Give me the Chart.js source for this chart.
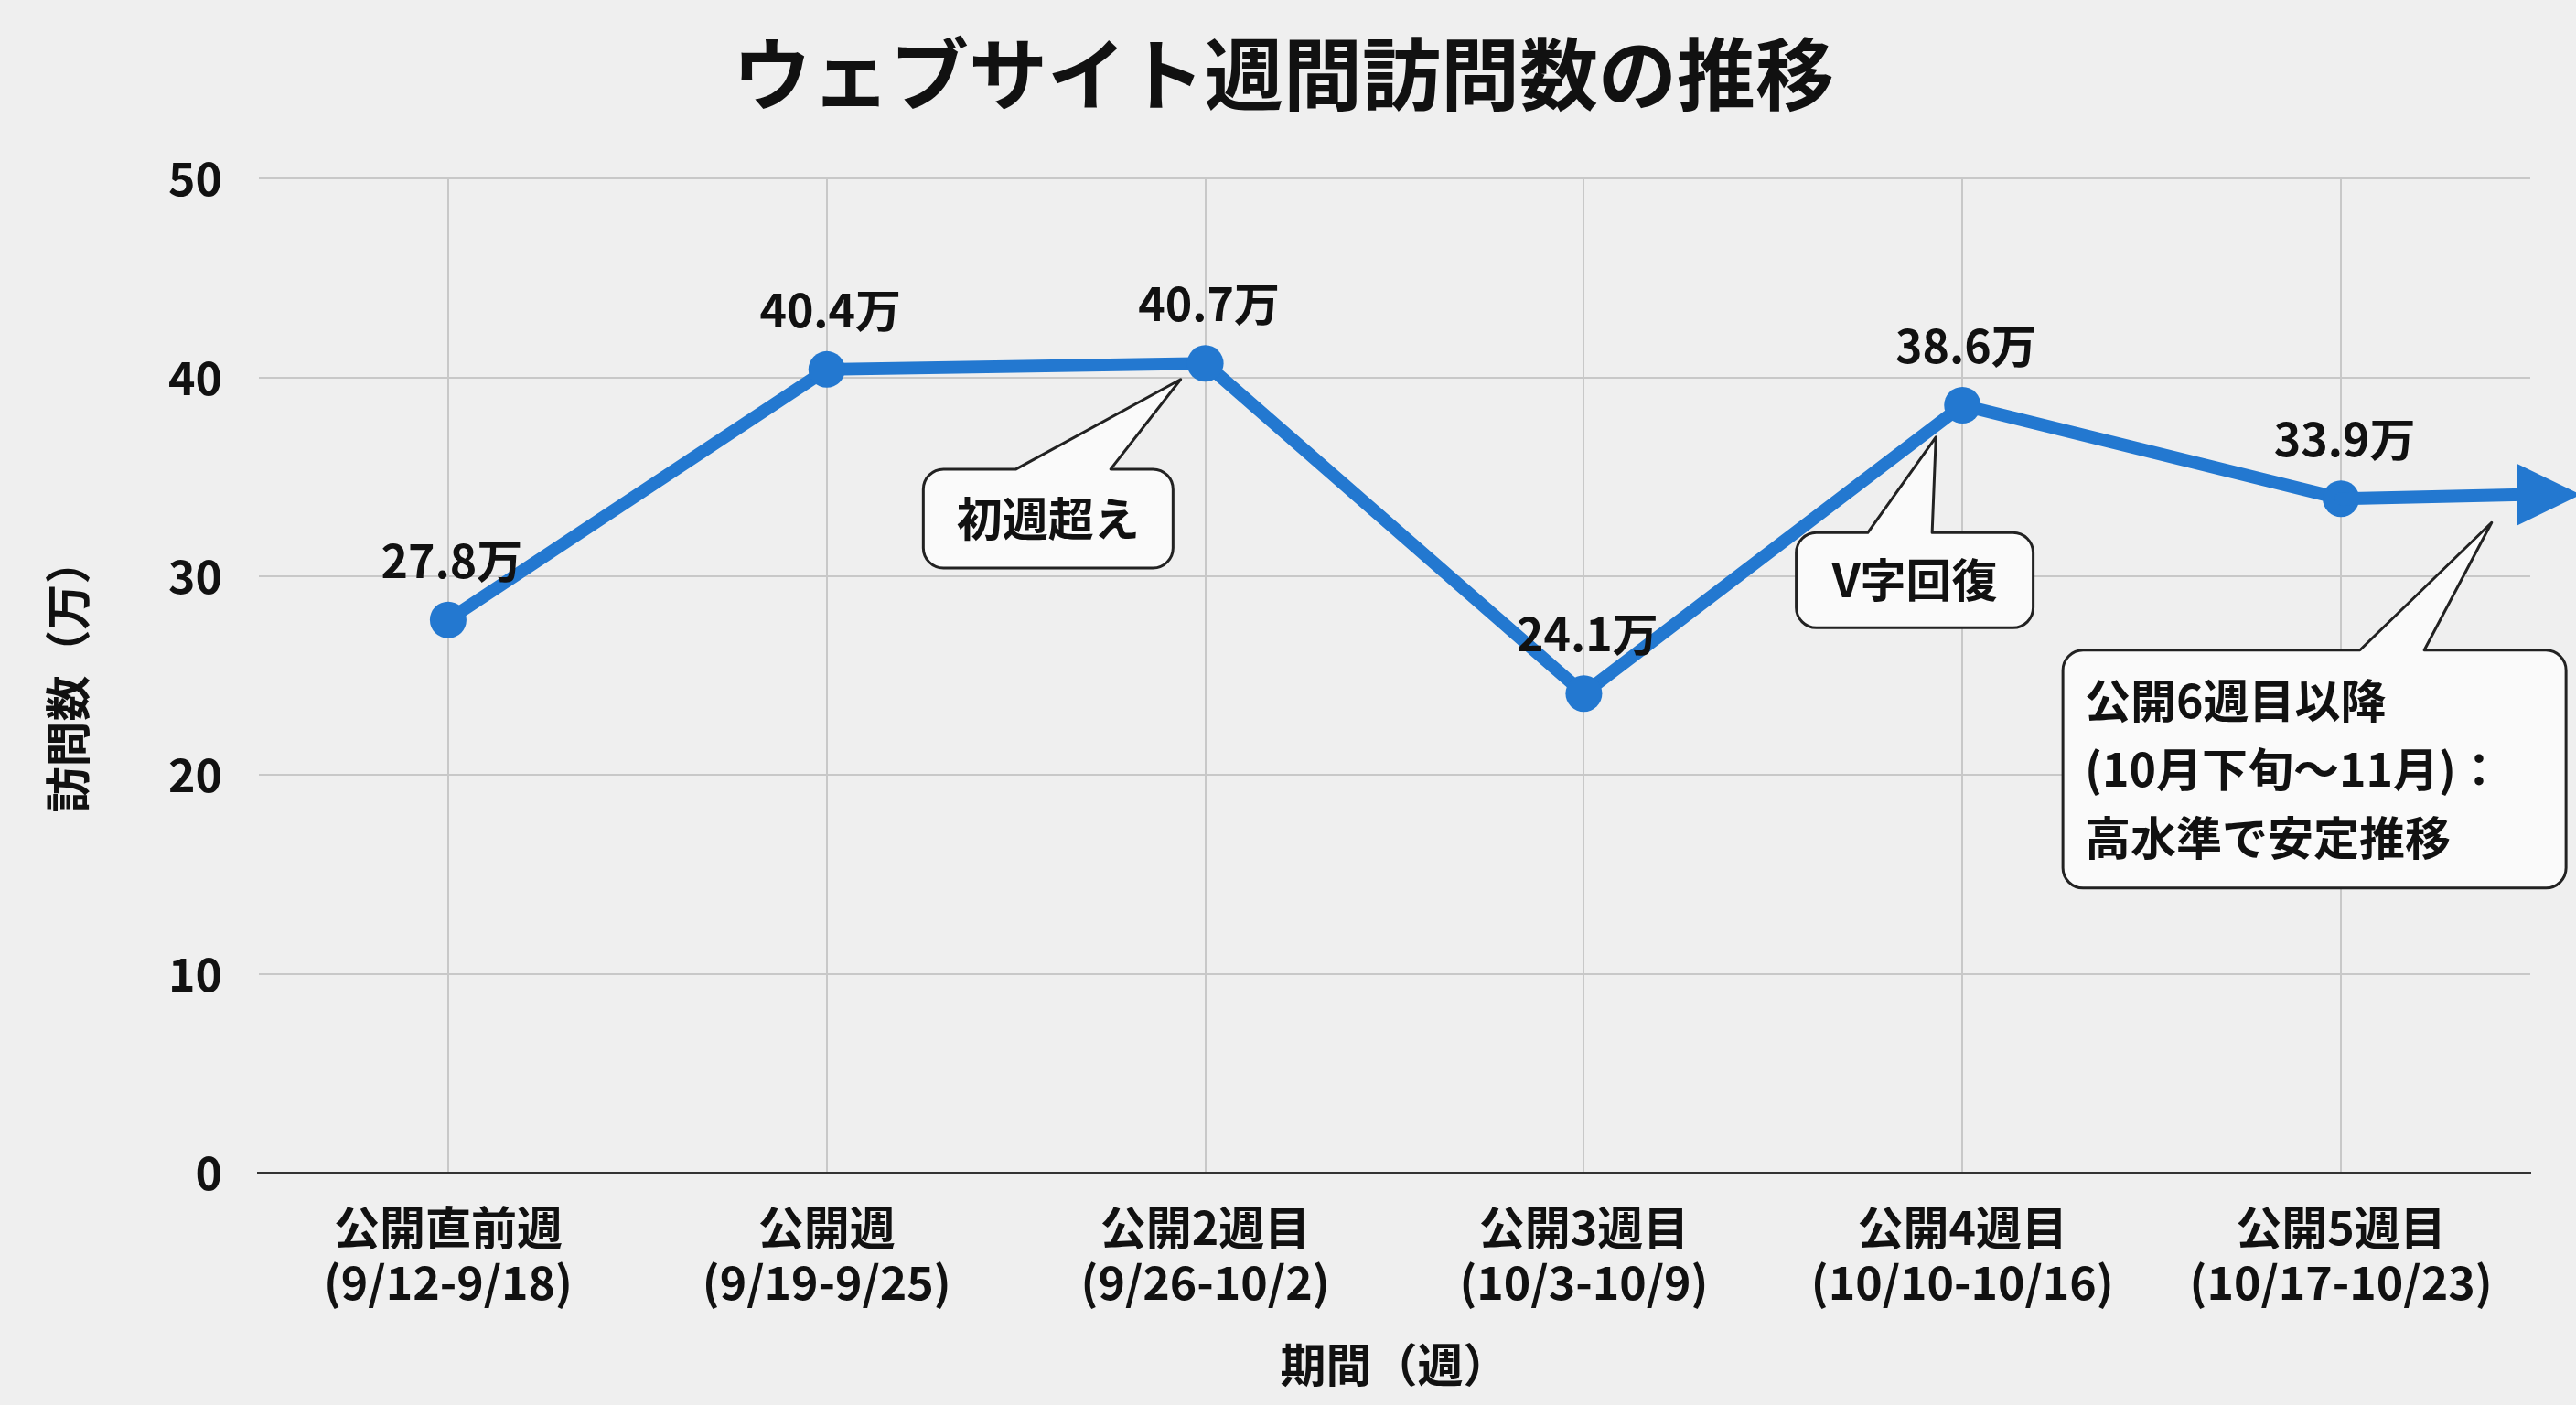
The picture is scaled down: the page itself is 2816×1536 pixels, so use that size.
<!DOCTYPE html>
<html><head><meta charset="utf-8">
<script src="https://cdn.jsdelivr.net/npm/chart.js@4/dist/chart.umd.min.js"></script>
<style>html,body{margin:0;padding:0;background:#efefef}canvas{display:block}</style>
</head><body><canvas id="c" width="2816" height="1536"></canvas>
<script>
const categories = [["公開直前週","(9/12-9/18)"],["公開週","(9/19-9/25)"],["公開2週目","(9/26-10/2)"],["公開3週目","(10/3-10/9)"],["公開4週目","(10/10-10/16)"],["公開5週目","(10/17-10/23)"]];
const visits = [27.8, 40.4, 40.7, 24.1, 38.6, 33.9];
const trendEnd = 34.1;
const yTicks = [0,10,20,30,40,50];
const callouts = [
  {lines:["初週超え"], cx:1.585, cy:32.9, w:273, h:108, align:"center", tip:[1.935,39.9], base:[1.5,1.75]},
  {lines:["V字回復"], cx:3.874, cy:29.8, w:259, h:104, align:"center", tip:[3.93,37.0], base:[3.75,3.92]},
  {lines:["公開6週目以降","(10月下旬〜11月)：","高水準で安定推移"], cx:4.93, cy:20.3, w:550, h:260, align:"left", tip:[5.398,32.7], base:[5.05,5.22]}
];
const FONT = '"Noto Sans CJK JP", "Noto Sans", sans-serif';
const COLOR = '#2378d0';

const overlay = {
  id:'overlay',
  afterDatasetsDraw(chart){
    const ctx = chart.ctx, xs = chart.scales.x, ys = chart.scales.y;
    const step = xs.getPixelForValue(1) - xs.getPixelForValue(0);
    // trend extension + arrow
    const x0 = xs.getPixelForValue(5), y0 = ys.getPixelForValue(visits[5]);
    const xe = x0 + step*0.58, ye = ys.getPixelForValue(trendEnd);
    ctx.save();
    ctx.strokeStyle = COLOR; ctx.lineWidth = 14; ctx.lineCap='round';
    ctx.beginPath(); ctx.moveTo(x0,y0); ctx.lineTo(xe-40,ye); ctx.stroke();
    ctx.fillStyle = COLOR; ctx.beginPath();
    ctx.moveTo(xe+22,ye); ctx.lineTo(xe-48,ye-34); ctx.lineTo(xe-48,ye+34); ctx.closePath(); ctx.fill();
    // data labels
    ctx.fillStyle='#111'; ctx.font='bold 50px '+FONT; ctx.textAlign='center'; ctx.textBaseline='bottom';
    visits.forEach((v,i)=>{ ctx.fillText(v.toFixed(1)+'万', xs.getPixelForValue(i)+4, ys.getPixelForValue(v)-40); });
    // callouts
    callouts.forEach(c=>{
      const cx = xs.getPixelForValue(c.cx), cy = ys.getPixelForValue(c.cy);
      const l = cx-c.w/2, t = cy-c.h/2, r = 22;
      const b1 = xs.getPixelForValue(c.base[0]), b2 = xs.getPixelForValue(c.base[1]);
      const tx = xs.getPixelForValue(c.tip[0]), ty = ys.getPixelForValue(c.tip[1]);
      ctx.beginPath();
      ctx.moveTo(l+r,t); ctx.lineTo(b1,t); ctx.lineTo(tx,ty); ctx.lineTo(b2,t);
      ctx.lineTo(l+c.w-r,t); ctx.arcTo(l+c.w,t,l+c.w,t+r,r);
      ctx.lineTo(l+c.w,t+c.h-r); ctx.arcTo(l+c.w,t+c.h,l+c.w-r,t+c.h,r);
      ctx.lineTo(l+r,t+c.h); ctx.arcTo(l,t+c.h,l,t+c.h-r,r);
      ctx.lineTo(l,t+r); ctx.arcTo(l,t,l+r,t,r); ctx.closePath();
      ctx.fillStyle='#fafafa'; ctx.fill(); ctx.strokeStyle='#222'; ctx.lineWidth=3; ctx.lineJoin='round'; ctx.stroke();
      ctx.fillStyle='#111'; ctx.font='bold 50px '+FONT; ctx.textBaseline='middle';
      const lh = 75, start = cy - (c.lines.length-1)*lh/2;
      c.lines.forEach((s,k)=>{
        if(c.align==='center'){ctx.textAlign='center'; ctx.fillText(s,cx,start+k*lh);}
        else {ctx.textAlign='left'; ctx.fillText(s,l+24,start+k*lh);}
      });
    });
    ctx.restore();
  }
};

new Chart(document.getElementById('c'),{
  type:'line',
  data:{labels:categories, datasets:[{data:visits, borderColor:COLOR, backgroundColor:COLOR, borderWidth:14, pointRadius:20, pointBackgroundColor:COLOR, pointBorderWidth:0, tension:0}]},
  options:{
    responsive:false, animation:false,
    layout:{padding:{left:40,right:50,top:10,bottom:10}},
    plugins:{legend:{display:false}, tooltip:{enabled:false},
      title:{display:true, text:'ウェブサイト週間訪問数の推移', color:'#111', font:{family:FONT,size:86,weight:'bold'}, padding:{top:20,bottom:62}}},
    scales:{
      x:{offset:true, grid:{offset:false, color:'#c8c8c8', lineWidth:2, drawTicks:false},
        border:{color:'#333', width:3},
        ticks:{color:'#111', font:{family:FONT,size:50,weight:'bold'}, padding:30, maxRotation:0, autoSkip:false},
        title:{display:true, text:'期間（週）', color:'#111', font:{family:FONT,size:50,weight:'bold'}, padding:{top:0}}},
      y:{min:0,max:50, afterBuildTicks(s){s.ticks=yTicks.map(v=>({value:v}));},
        grid:{color:'#c8c8c8', lineWidth:2, drawTicks:false}, border:{display:false},
        ticks:{color:'#111', font:{family:FONT,size:50,weight:'bold'}, padding:40},
        title:{display:true, text:'訪問数（万）', color:'#111', font:{family:FONT,size:50,weight:'bold'}, padding:{bottom:40}}}
    }
  },
  plugins:[overlay]
});
</script></body></html>
